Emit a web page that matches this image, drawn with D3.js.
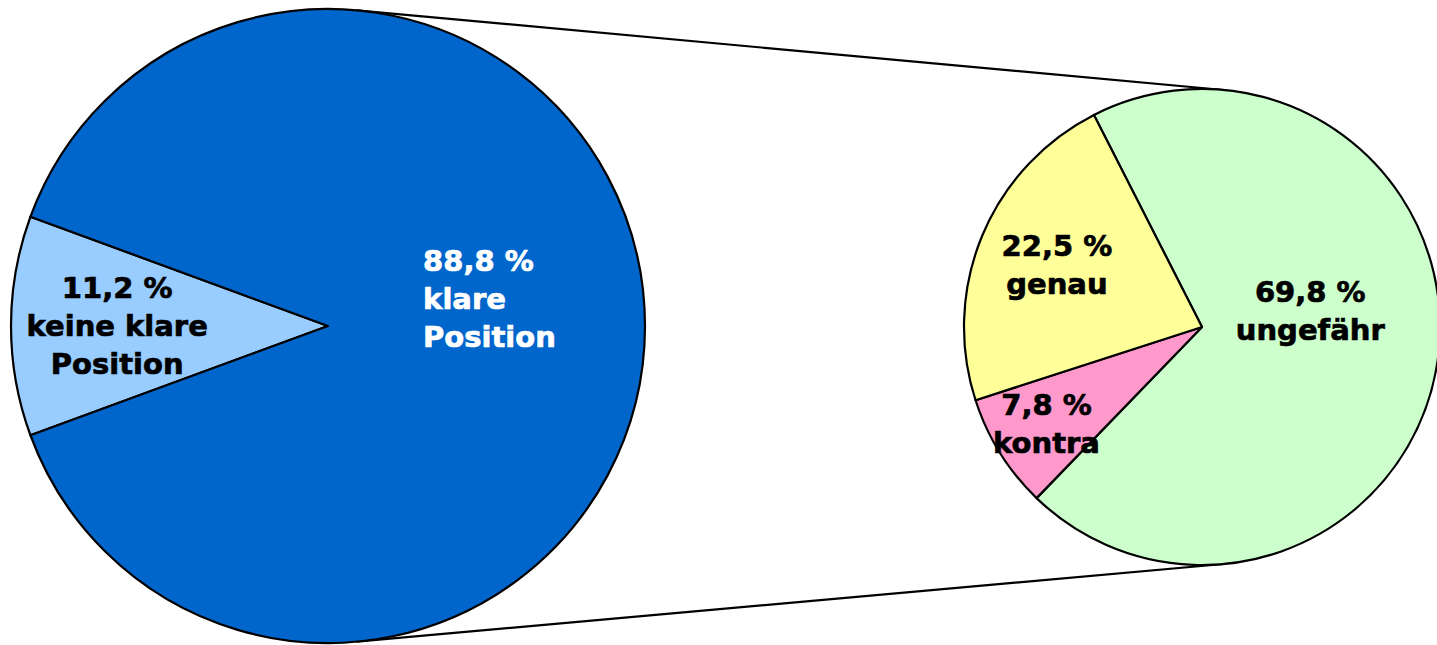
<!DOCTYPE html>
<html>
<head>
<meta charset="utf-8">
<script src="https://cdn.jsdelivr.net/npm/d3@7"></script>
<style>
  body { margin: 0; background: #fff; }
  svg { display: block; }
  text { font-family: "DejaVu Sans", Verdana, sans-serif; font-weight: bold; font-size: 29px; }
</style>
</head>
<body>
<div id="chart"></div>
<script>
// main pie
const mainLabels = ["keine klare Position", "klare Position"];
const mainValues = [11.2, 88.8];
const mainColors = ["#99CCFF", "#0066CC"];
const mainTextColors = ["#000", "#fff"];

// second pie (split of "klare Position")
const subLabels = ["ungefähr", "kontra", "genau"];
const subValues = [69.8, 7.8, 22.5];
const subColors = ["#CCFFCC", "#FF99CC", "#FFFF99"];

const WIDTH = 1437;
const HEIGHT = 645;
const LINE_H = 38;

const fmt = v => d3.format(".1f")(v).replace(".", ",") + " %";

const svg = d3.select("#chart").append("svg")
    .attr("width", WIDTH)
    .attr("height", HEIGHT);

const big = {cx: 328, cy: 326, r: 317};
const small = {cx: 1202, cy: 327, r: 238};

// connector lines: outer tangents between both circles
const gLines = svg.append("g").attr("class", "connectors");
const dist = small.cx - big.cx;
const alpha = Math.asin((big.r - small.r) / dist);
[-1, 1].forEach(side => {
    const nx = Math.sin(alpha), ny = side * Math.cos(alpha);
    gLines.append("line")
        .attr("x1", big.cx + big.r * nx)
        .attr("y1", big.cy + big.r * ny)
        .attr("x2", small.cx + small.r * nx)
        .attr("y2", small.cy + small.r * ny)
        .attr("stroke", "#000")
        .attr("stroke-width", 2.2);
});

const drawPie = (cfg, values, colors, startAngle) => {
    const pie = d3.pie().sort(null)
        .startAngle(startAngle)
        .endAngle(startAngle + 2 * Math.PI);
    const arc = d3.arc().innerRadius(0).outerRadius(cfg.r);
    const g = svg.append("g")
        .attr("transform", "translate(" + cfg.cx + "," + cfg.cy + ")");
    const arcs = pie(values);
    g.selectAll("path")
        .data(arcs)
        .enter()
        .append("path")
        .attr("d", arc)
        .attr("fill", (d, i) => colors[i])
        .attr("stroke", "#000")
        .attr("stroke-width", 2.2)
        .attr("stroke-linejoin", "round");
    return {g, arcs};
};

const addLabel = (g, arcD, r, k, lines, opts) => {
    const la = d3.arc().innerRadius(r * k).outerRadius(r * k);
    const [x, y] = la.centroid(arcD);
    const cy = y + (opts.dy || 0);
    const color = opts.color || "#000";
    const t = g.append("text")
        .attr("text-anchor", opts.anchor || "middle")
        .attr("fill", color)
        .attr("stroke", color)
        .attr("stroke-width", 0.7);
    lines.forEach((s, i) => {
        t.append("tspan")
            .attr("x", x + (opts.dx || 0))
            .attr("y", cy - (lines.length - 1) / 2 * LINE_H + 10 + i * LINE_H)
            .text(s);
    });
};

// big pie: small slice centred on the left
const keineAngle = 2 * Math.PI * mainValues[0] / d3.sum(mainValues);
const bigPie = drawPie(big, mainValues, mainColors, 1.5 * Math.PI - keineAngle / 2);
addLabel(bigPie.g, bigPie.arcs[0], big.r, 0.665,
    [fmt(mainValues[0]), "keine klare", "Position"], {color: mainTextColors[0]});
addLabel(bigPie.g, bigPie.arcs[1], big.r, 0.3,
    [fmt(mainValues[1]), "klare", "Position"], {color: mainTextColors[1], anchor: "start", dy: -27});

// small pie
const smallPie = drawPie(small, subValues, subColors, -27 * Math.PI / 180);
const subK = [0.46, 0.77, 0.66];
const subDy = [-32, 0, -2];
smallPie.arcs.forEach((d, i) => {
    addLabel(smallPie.g, d, small.r, subK[i], [fmt(subValues[i]), subLabels[i]], {dy: subDy[i]});
});
</script>
</body>
</html>
